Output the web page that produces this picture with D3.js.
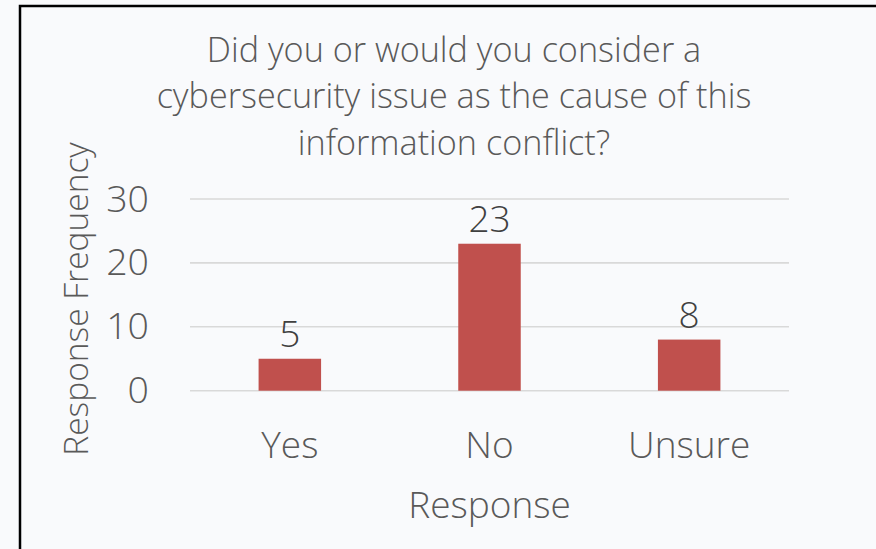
<!DOCTYPE html>
<html>
<head>
<meta charset="utf-8">
<script src="https://cdn.jsdelivr.net/npm/d3@7"></script>
<style>
  html, body { margin: 0; padding: 0; background: #F9FAFC; }
  svg { display: block; }
  text { font-family: "Open Sans", "Noto Sans", sans-serif; font-weight: 300; }
</style>
</head>
<body>
<svg id="chart" width="876" height="549"></svg>
<script>
// Survey answers and how many respondents gave each
const categories = ["Yes", "No", "Unsure"];
const counts = [5, 23, 8];
const yTicks = [0, 10, 20, 30];
const titleLines = [
  "Did you or would you consider a",
  "cybersecurity issue as the cause of this",
  "information conflict?"
];
const xAxisTitle = "Response";
const yAxisTitle = "Response Frequency";

const W = 876, H = 549;
const plot = { left: 190, right: 789, top: 199, bottom: 390.7 };

const svg = d3.select("#chart");

svg.append("rect").attr("width", W).attr("height", H).attr("fill", "#F9FAFC");

// Frame of the chart area (left and top edges are visible)
svg.append("path")
  .attr("d", `M20,${H} L20,6 L${W},6`)
  .attr("fill", "none")
  .attr("stroke", "#000")
  .attr("stroke-width", 2.5);

const x = d3.scaleBand()
  .domain(categories)
  .range([plot.left, plot.right])
  .paddingInner(0.687)
  .paddingOuter(0.3435);

const y = d3.scaleLinear()
  .domain([0, 30])
  .range([plot.bottom, plot.top]);

// Horizontal gridlines
svg.append("g")
  .selectAll("line")
  .data(yTicks)
  .join("line")
  .attr("x1", plot.left)
  .attr("x2", plot.right)
  .attr("y1", d => y(d))
  .attr("y2", d => y(d))
  .attr("stroke", "#D9D9D9")
  .attr("stroke-width", 1.6);

// Y tick labels
svg.append("g")
  .selectAll("text")
  .data(yTicks)
  .join("text")
  .attr("x", 149)
  .attr("y", d => y(d) + 12.5)
  .attr("text-anchor", "end")
  .attr("font-size", 37.5)
  .attr("fill", "#595959")
  .text(d => d);

// Bars
svg.append("g")
  .selectAll("rect")
  .data(categories)
  .join("rect")
  .attr("x", d => x(d))
  .attr("width", x.bandwidth())
  .attr("y", (d, i) => y(counts[i]))
  .attr("height", (d, i) => y(0) - y(counts[i]))
  .attr("fill", "#C0504D");

// Value labels above bars
svg.append("g")
  .selectAll("text")
  .data(categories)
  .join("text")
  .attr("x", d => x(d) + x.bandwidth() / 2)
  .attr("y", (d, i) => y(counts[i]) - 12)
  .attr("text-anchor", "middle")
  .attr("font-size", 37)
  .attr("fill", "#404040")
  .text((d, i) => counts[i]);

// Category labels
svg.append("g")
  .selectAll("text")
  .data(categories)
  .join("text")
  .attr("x", d => x(d) + x.bandwidth() / 2)
  .attr("y", 458)
  .attr("text-anchor", "middle")
  .attr("font-size", 37)
  .attr("fill", "#595959")
  .text(d => d);

// Axis titles
svg.append("text")
  .attr("x", (plot.left + plot.right) / 2)
  .attr("y", 518)
  .attr("text-anchor", "middle")
  .attr("font-size", 37)
  .attr("fill", "#595959")
  .text(xAxisTitle);

svg.append("text")
  .attr("transform", "translate(88,299) rotate(-90)")
  .attr("text-anchor", "middle")
  .attr("font-size", 33.5)
  .attr("fill", "#595959")
  .text(yAxisTitle);

// Chart title
svg.append("g")
  .selectAll("text")
  .data(titleLines)
  .join("text")
  .attr("x", 454)
  .attr("y", (d, i) => 61.7 + i * 46.7)
  .attr("text-anchor", "middle")
  .attr("font-size", 34.2)
  .attr("fill", "#595959")
  .text(d => d);
</script>
</body>
</html>
